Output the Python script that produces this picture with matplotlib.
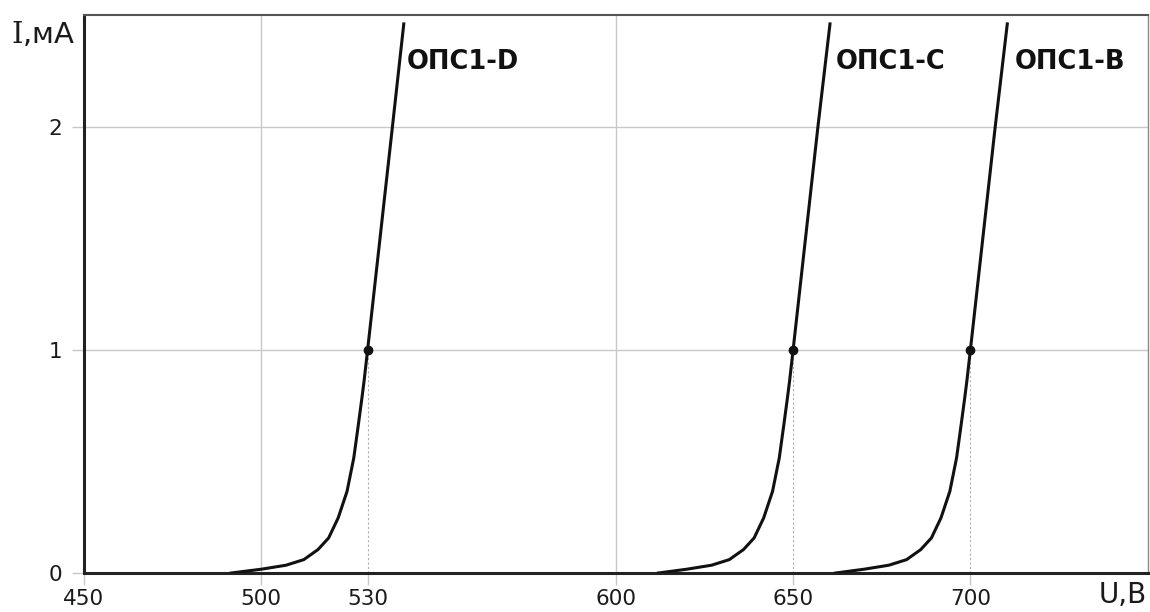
import matplotlib
matplotlib.use("Agg")
import matplotlib.pyplot as plt

plt.rcParams['font.family'] = ['DejaVu Sans']
plt.rcParams['mathtext.fontset'] = 'custom'
plt.rcParams['mathtext.rm'] = 'DejaVu Serif'

# ток, мА (общий для всех кривых)
I_ma = [0, 0.017, 0.035, 0.06, 0.105, 0.157, 0.247, 0.366, 0.516, 0.666, 0.785, 0.86, 1.0, 2.0, 2.46]
# напряжение, В
U_D = [491.5, 500, 507, 512, 516, 519, 521.7, 524.2, 526.1, 527.4, 528.4, 529.0, 530, 537, 540.2]
U_C = [612, 620, 627, 632, 636, 639, 641.7, 644.2, 646.1, 647.4, 648.4, 649.0, 650, 657, 660.4]
U_B = [662, 670, 677, 682, 686, 689, 691.7, 694.2, 696.1, 697.4, 698.4, 699.0, 700, 707, 710.4]
names = ['ОПС1-D', 'ОПС1-C', 'ОПС1-B']
U_nom = [530, 650, 700]
label_x = [541, 662, 712.5]

x_ticks = [450, 500, 530, 600, 650, 700]
x_grid = [450, 500, 600]
y_ticks = [0, 1, 2]

fig = plt.figure(figsize=(11.5, 6.12), dpi=100)
ax = fig.add_axes([0.073, 0.0637, 0.925, 0.9118])
ax.set_xlim(450, 750)
ax.set_ylim(0, 2.5)

grid_c = '#c8c8c8'
for x in x_grid:
    ax.axvline(x, color=grid_c, lw=1, zorder=1)
for y in [1, 2]:
    ax.axhline(y, color=grid_c, lw=1, zorder=1)
# пунктир до рабочей точки
ax.vlines(U_nom, 0, 1, colors='#b0b0b0', lw=0.8, linestyles=(0, (2, 2)), zorder=1)

for U, name, lx in zip([U_D, U_C, U_B], names, label_x):
    ax.plot(U, I_ma, color='#111111', lw=2.2, zorder=3, solid_joinstyle='round')
    ax.text(lx, 2.29, name, fontsize=18.5, fontweight='bold', color='#111111',
            va='center', ha='left')
ax.plot(U_nom, [1, 1, 1], 'o', color='#111111', ms=6, zorder=4)

ax.set_xticks(x_ticks)
ax.set_yticks(y_ticks)
ax.tick_params(axis='both', length=8.5, width=1, color=grid_c,
               labelsize=15.5, labelcolor='#1a1a1a')
ax.tick_params(axis='x', pad=3)
ax.tick_params(axis='y', pad=7)

for s in ['left', 'bottom']:
    ax.spines[s].set_linewidth(2.2)
    ax.spines[s].set_color('#222222')
ax.spines['top'].set_linewidth(1.5)
ax.spines['top'].set_color('#555555')
ax.spines['right'].set_linewidth(1)
ax.spines['right'].set_color('#888888')

fig.text(75 / 1150, 1 - 34 / 612, r'$\mathrm{I}$,мА', fontsize=21, ha='right', va='center', color='#1a1a1a')
fig.text(1147 / 1150, 1 - 595 / 612, 'U,В', fontsize=20, ha='right', va='center', color='#1a1a1a')

fig.savefig('out.png', dpi=100)
